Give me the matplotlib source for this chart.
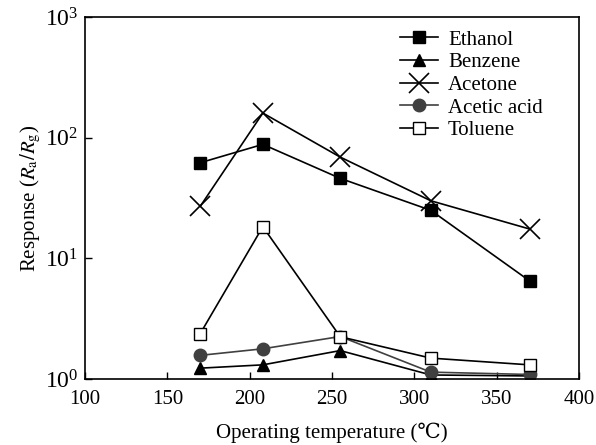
import matplotlib
matplotlib.use("Agg")
import matplotlib.pyplot as plt
from matplotlib.ticker import LogLocator, LogFormatterMathtext, NullLocator

plt.rcParams["font.family"] = ["Liberation Serif", "DejaVu Serif", "Noto Sans CJK SC"]
plt.rcParams["mathtext.fontset"] = "stix"

# ---------------------------------------------------------------------------
# Data
# ---------------------------------------------------------------------------
temperature = [170, 208, 255, 310, 370]

ethanol = [62, 88, 46, 25, 6.5]
benzene = [1.23, 1.31, 1.72, 1.08, 1.06]
acetone = [27, 160, 69, 30, 17.5]
acetic_acid = [1.57, 1.78, 2.25, 1.14, 1.09]
toluene = [2.38, 18.3, 2.24, 1.49, 1.31]

series = [
    ("Ethanol", ethanol, dict(marker="s", color="black", mfc="black", ms=9)),
    ("Benzene", benzene, dict(marker="^", color="black", mfc="black", ms=9)),
    ("Acetone", acetone, dict(marker="x", color="black", ms=14, mew=1.2)),
    ("Acetic acid", acetic_acid, dict(marker="o", color="#404040", mfc="#404040",
                                      mec="#404040", ms=9)),
    ("Toluene", toluene, dict(marker="s", color="black", mfc="white", ms=9)),
]

fig = plt.figure(figsize=(5.96, 4.45), dpi=100)
ax = fig.add_axes([0.1426, 0.1483, 0.8289, 0.8135])

for name, vals, style in series:
    ax.plot(temperature, vals, label=name, linewidth=1.2, **style)

ax.set_xlim(100, 400)
ax.set_ylim(1, 1000)
ax.set_yscale("log")
ax.set_xticks([100, 150, 200, 250, 300, 350, 400])
ax.yaxis.set_major_locator(LogLocator(base=10))
ax.yaxis.set_major_formatter(LogFormatterMathtext())
ax.yaxis.set_minor_locator(NullLocator())
ax.tick_params(direction="in", length=5, width=1)
ax.tick_params(axis="x", pad=8, labelsize=15)
ax.tick_params(axis="y", pad=5, labelsize=17)
for sp in ax.spines.values():
    sp.set_linewidth(1.2)

ax.set_xlabel("Operating temperature (\u2103)", fontsize=15, labelpad=10)
ax.set_ylabel(r"Response ($R_{\rm a}/R_{\rm g}$)", fontsize=15, labelpad=1)

ax.legend(loc="upper left", bbox_to_anchor=(0.638, 0.964), frameon=False,
          borderaxespad=0, borderpad=0,
          fontsize=15, handlelength=1.8, handletextpad=0.5, labelspacing=0.15)

fig.savefig("out.png", dpi=100)
